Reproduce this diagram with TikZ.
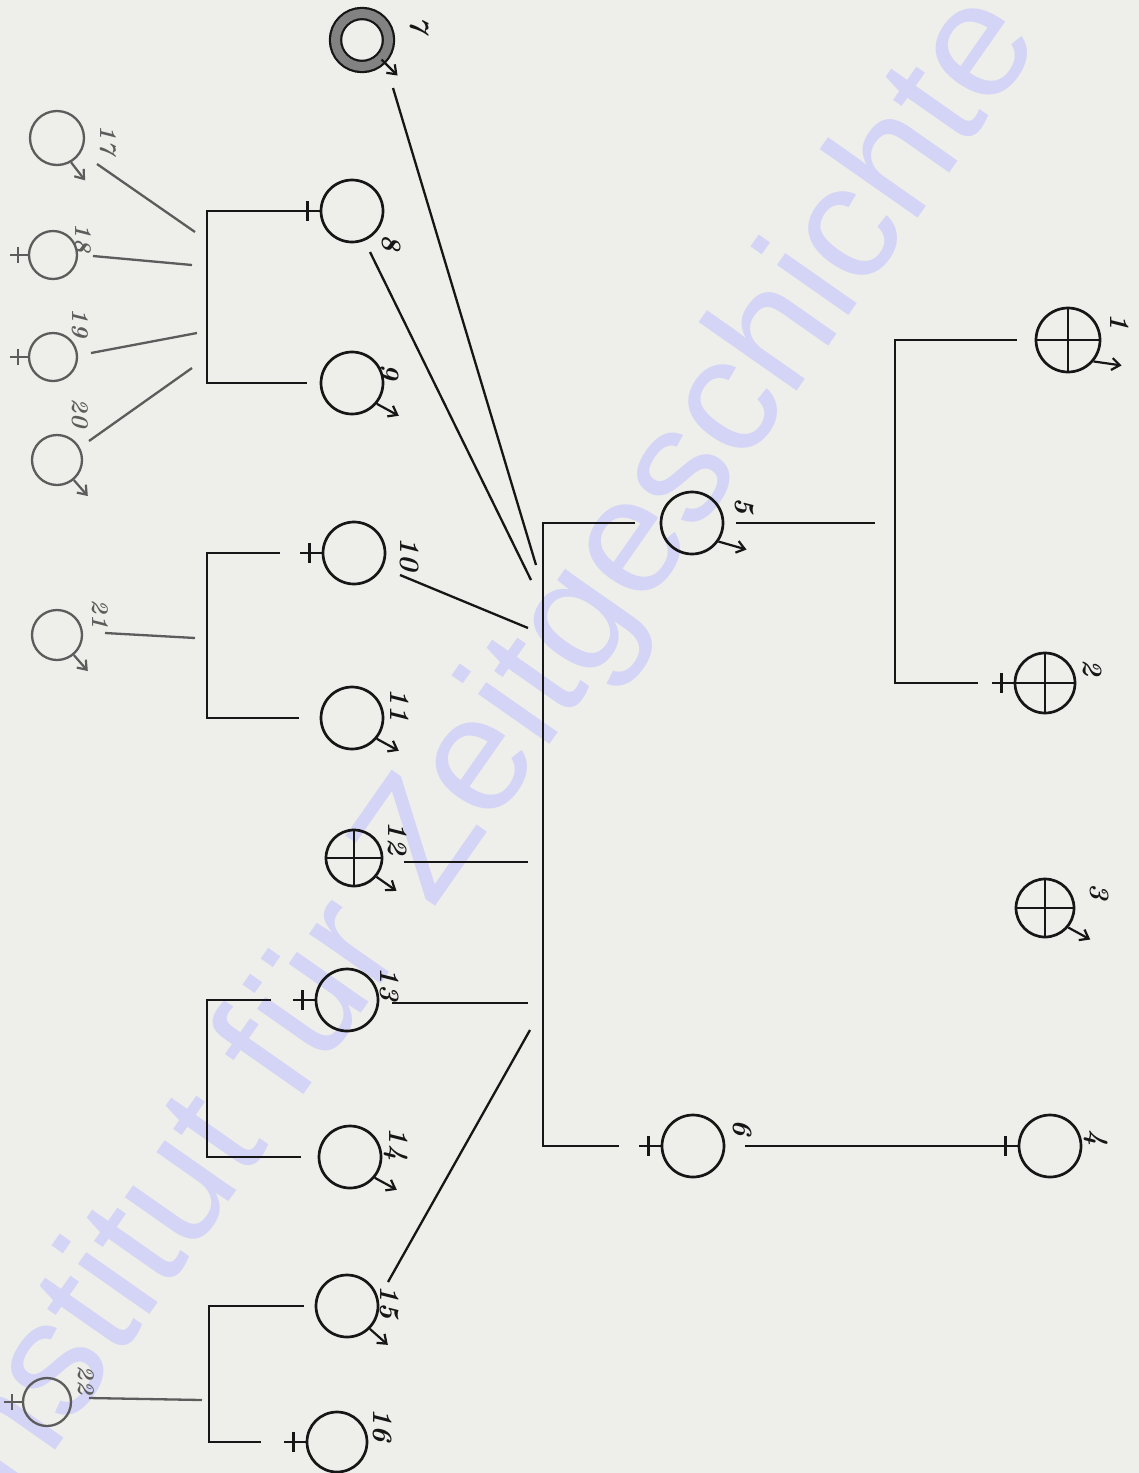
\documentclass[tikz,border=0pt]{standalone}
\usepackage{fontspec}
\newfontfamily\wmfont{Liberation Sans}
\usetikzlibrary{arrows.meta}
\definecolor{paper}{RGB}{238,238,234}
\definecolor{ink}{RGB}{22,22,22}
\definecolor{pencil}{RGB}{92,92,92}
\definecolor{wmark}{RGB}{212,212,246}
\definecolor{ringgray}{RGB}{130,130,130}
\newcommand\FemSign[3][ink]{\draw[fmark,draw=#1] (#2.west) -- ++(-#3,0) ++(0.45*#3,-0.45*#3) -- ++(0,0.9*#3);}
\newcommand\MaleSign[4][ink]{\draw[marr,draw=#1] (#2.#3) -- ++(#4);}
\begin{document}
\begin{tikzpicture}[x=1pt,y=-1pt,
  ln/.style={draw=ink,line width=2.3pt},
  per/.style={circle,draw=ink,line width=2.7pt,minimum size=62pt,inner sep=0pt},
  dead/.style={per,path picture={\draw[ink,line width=2.2pt]
      (path picture bounding box.north) -- (path picture bounding box.south)
      (path picture bounding box.west) -- (path picture bounding box.east);}},
  faint/.style={per,draw=pencil,line width=2.3pt,minimum size=50pt},
  ring/.style={circle,draw=ink,line width=2.2pt,double=ringgray,double distance=9pt,minimum size=53pt,inner sep=0pt},
  lab/.style={rotate=-90,font=\fontsize{28}{28}\selectfont\bfseries\itshape,text=ink,inner sep=0pt},
  flab/.style={lab,font=\fontsize{24}{24}\selectfont\bfseries\itshape,text=pencil},
  marr/.style={line width=2.2pt,-{Straight Barb[length=8pt,width=12pt,line width=2.2pt]}},
  fmark/.style={line width=2.5pt},
  wm/.style={rotate=55,font=\wmfont\fontsize{165}{165}\selectfont,text=wmark,inner sep=0pt}
]
\path[use as bounding box] (0,0) rectangle (1139,1473);
\clip (0,0) rectangle (1139,1473);
\fill[paper] (0,0) rectangle (1139,1473);
\node[wm] (wm) at (482,766) {Institut für Zeitgeschichte};

% ---------- persons ----------
\node[dead,minimum size=64pt] (p1) at (1068,340) {};
\node[dead,minimum size=60pt] (p2) at (1045,683) {};
\node[dead,minimum size=58pt] (p3) at (1045,908) {};
\node[per] (p4) at (1050,1146) {};
\node[per] (p5) at (692,523) {};
\node[per] (p6) at (693,1146) {};
\node[ring] (p7) at (362,40) {};
\node[per] (p8) at (352,211) {};
\node[per] (p9) at (352,383) {};
\node[per] (p10) at (354,553) {};
\node[per] (p11) at (352,718) {};
\node[dead,minimum size=56pt] (p12) at (354,858) {};
\node[per] (p13) at (347,1000) {};
\node[per] (p14) at (350,1157) {};
\node[per] (p15) at (347,1306) {};
\node[per,minimum size=60pt] (p16) at (337,1442) {};
\node[faint,minimum size=54pt] (p17) at (57,138) {};
\node[faint,minimum size=48pt] (p18) at (53,255) {};
\node[faint,minimum size=48pt] (p19) at (53,357) {};
\node[faint] (p20) at (57,460) {};
\node[faint] (p21) at (57,635) {};
\node[faint,minimum size=48pt] (p22) at (47,1402) {};

% ---------- sex signs ----------
\MaleSign{p1}{-40}{28,4}
\FemSign{p2}{22}
\MaleSign{p3}{-40}{22,12}
\FemSign{p4}{22}
\MaleSign{p5}{-35}{28,8}
\FemSign{p6}{22}
\MaleSign{p7}{-45}{16,16}
\FemSign{p8}{22}
\MaleSign{p9}{-40}{22,12}
\FemSign{p10}{22}
\MaleSign{p11}{-40}{22,12}
\MaleSign{p12}{-40}{20,14}
\FemSign{p13}{22}
\MaleSign{p14}{-40}{22,12}
\MaleSign{p15}{-45}{18,16}
\FemSign{p16}{22}
\MaleSign[pencil]{p17}{-60}{14,18}
\FemSign[pencil]{p18}{18}
\FemSign[pencil]{p19}{18}
\MaleSign[pencil]{p20}{-50}{14,16}
\MaleSign[pencil]{p21}{-50}{14,16}
\FemSign[pencil]{p22}{18}

% ---------- labels ----------
\node[lab] (l1) at (1120,322) {1};
\node[lab] (l2) at (1093,668) {2};
\node[lab] (l3) at (1100,892) {3};
\node[lab] (l4) at (1096,1138) {4};
\node[lab] (l5) at (745,506) {5};
\node[lab] (l6) at (743,1128) {6};
\node[lab] (l7) at (420,25) {7};
\node[lab] (l8) at (392,243) {8};
\node[lab] (l9) at (390,372) {9};
\node[lab] (l10) at (410,554) {10};
\node[lab] (l11) at (400,705) {11};
\node[lab] (l12) at (398,838) {12};
\node[lab] (l13) at (390,984) {13};
\node[lab] (l14) at (396,1144) {14};
\node[lab] (l15) at (390,1302) {15};
\node[lab] (l16) at (383,1425) {16};
\node[flab] (l17) at (108,140) {17};
\node[flab] (l18) at (83,238) {18};
\node[flab] (l19) at (80,323) {19};
\node[flab] (l20) at (80,413) {20};
\node[flab] (l21) at (100,614) {21};
\node[flab] (l22) at (86,1380) {22};

% ---------- coordinates ----------
\coordinate (b1) at (895,510);
\coordinate (b1m) at (875,523);
\coordinate (bm) at (543,830);
\coordinate (m7) at (536,565);
\coordinate (m8) at (531,580);
\coordinate (m10) at (528,628);
\coordinate (m12) at (528,862);
\coordinate (m13) at (528,1003);
\coordinate (m15) at (530,1030);
\coordinate (k8) at (207,300);
\coordinate (k10) at (207,630);
\coordinate (k13) at (207,1080);
\coordinate (k15) at (209,1380);
\coordinate (q17) at (195,232);
\coordinate (q18) at (192,265);
\coordinate (q19) at (197,333);
\coordinate (q20) at (192,368);
\coordinate (q21) at (195,638);
\coordinate (q22) at (202,1400);

% ---------- connectors ----------
% generation I
\draw[ln] ([xshift=-18pt]p1.west) -| (b1) |- ([xshift=-36pt]p2.west);
\draw[ln] ([xshift=12pt]p5.east) -- (b1m);
\draw[ln] ([xshift=20pt]p6.east) -- (p4.west);
% generation II
\draw[ln] ([xshift=-25pt]p5.west) -| (bm) |- ([xshift=-42pt]p6.west);
% generation III to parents
\draw[ln] ([shift={(31,48)}]p7.center) -- (m7);
\draw[ln] ([shift={(18,41)}]p8.center) -- (m8);
\draw[ln] ([shift={(46,22)}]p10.center) -- (m10);
\draw[ln] ([shift={(50,4)}]p12.center) -- (m12);
\draw[ln] ([shift={(45,3)}]p13.center) -- (m13);
\draw[ln] ([shift={(41,-24)}]p15.center) -- (m15);
% sibling brackets of generation III
\draw[ln] ([xshift=-10pt]p8.west) -| (k8) |- ([xshift=-13pt]p9.west);
\draw[ln] ([xshift=-42pt]p10.west) -| (k10) |- ([xshift=-21pt]p11.west);
\draw[ln] ([xshift=-44pt]p13.west) -| (k13) |- ([xshift=-17pt]p14.west);
\draw[ln] ([xshift=-11pt]p15.west) -| (k15) |- ([xshift=-45pt]p16.west);
% generation IV
\draw[ln,draw=pencil] ([shift={(40,26)}]p17.center) -- (q17);
\draw[ln,draw=pencil] ([shift={(40,1)}]p18.center) -- (q18);
\draw[ln,draw=pencil] ([shift={(38,-4)}]p19.center) -- (q19);
\draw[ln,draw=pencil] ([shift={(32,-19)}]p20.center) -- (q20);
\draw[ln,draw=pencil] ([shift={(48,-2)}]p21.center) -- (q21);
\draw[ln,draw=pencil] ([shift={(42,-4)}]p22.center) -- (q22);
\end{tikzpicture}
\end{document}
